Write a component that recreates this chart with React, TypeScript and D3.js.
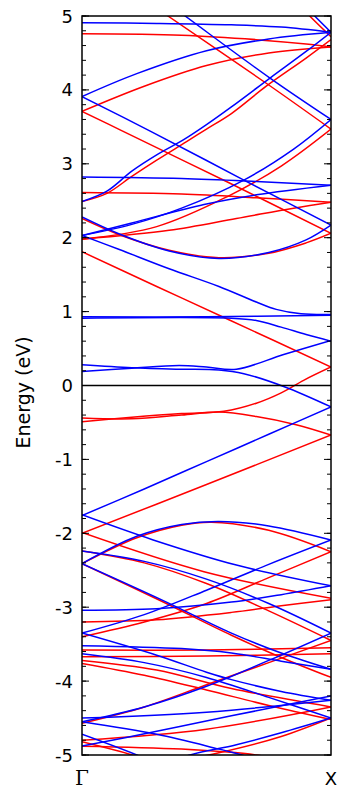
import React from "react";
import * as d3 from "d3";

// Band energies (eV) along the Γ → X path; k runs from 0 (Γ) to 1 (X).
type Band = [number, number][];

const spinUpBands: Band[] = [
  [[0, 4.91], [0.3, 4.9], [0.6, 4.88], [0.8, 4.85], [1, 4.78]],
  [[0, 3.91], [0.22, 4.22], [0.5, 4.53], [0.75, 4.69], [1, 4.78]],
  [[0.2, 5.53], [0.414, 5.0], [0.755, 4.16], [1, 3.6]],
  [[0, 2.49], [0.1, 2.63], [0.2, 2.9], [0.3, 3.12], [0.41, 3.33], [0.5, 3.53], [0.6, 3.77], [0.755, 4.16], [0.9, 4.52], [1, 4.78]],
  [[0.85, 5.3], [0.92, 5.05], [1, 4.78]],
  [[0, 3.91], [0.27, 3.45], [0.65, 2.78], [1, 2.17]],
  [[0, 2.82], [0.4, 2.8], [0.7, 2.76], [1, 2.71]],
  [[0, 2.03], [0.2, 2.18], [0.4, 2.4], [0.65, 2.78], [0.85, 3.2], [1, 3.6]],
  [[0, 2.03], [0.2, 2.2], [0.49, 2.45], [0.7, 2.58], [1, 2.71]],
  [[0, 2.28], [0.15, 2.05], [0.35, 1.82], [0.55, 1.72], [0.75, 1.8], [0.9, 1.97], [1, 2.17]],
  [[0, 2.03], [0.15, 1.84], [0.35, 1.58], [0.55, 1.34], [0.7, 1.13], [0.78, 1.03], [0.88, 0.97], [1, 0.96]],
  [[0, 0.93], [0.5, 0.93], [1, 0.95]],
  [[0, 0.91], [0.6, 0.91], [0.7, 0.88], [0.8, 0.79], [0.9, 0.69], [1, 0.6]],
  [[0, 0.19], [0.2, 0.235], [0.39, 0.27], [0.5, 0.25], [0.62, 0.22], [0.81, 0.42], [1, 0.61]],
  [[0, 0.28], [0.2, 0.24], [0.39, 0.22], [0.55, 0.21], [0.65, 0.16], [0.815, -0.02], [1, -0.29]],
  [[0, -1.76], [0.25, -1.4], [0.5, -1.03], [0.75, -0.66], [1, -0.29]],
  [[0, -1.75], [0.286, -2.09], [0.62, -2.43], [1, -2.71]],
  [[0, -2.41], [0.22, -2.04], [0.4, -1.88], [0.55, -1.84], [0.75, -1.9], [1, -2.09]],
  [[0, -2.24], [0.25, -2.38], [0.5, -2.62], [0.75, -2.95], [1, -3.35]],
  [[0, -2.41], [0.32, -2.9], [0.6, -3.35], [0.8, -3.62], [1, -3.84]],
  [[0, -3.04], [0.3, -3.02], [0.6, -2.93], [0.8, -2.83], [1, -2.71]],
  [[0, -3.35], [0.25, -3.1], [0.5, -2.77], [0.75, -2.42], [1, -2.09]],
  [[0, -3.35], [0.3, -3.65], [0.5, -3.88], [0.6, -3.98], [0.8, -4.14], [1, -4.26]],
  [[0, -3.52], [0.4, -3.56], [0.6, -3.62], [0.8, -3.73], [1, -3.84]],
  [[0, -3.63], [0.25, -3.75], [0.5, -3.95], [0.75, -4.22], [1, -4.5]],
  [[0, -4.5], [0.5, -4.42], [1, -4.26]],
  [[0, -4.55], [0.25, -4.35], [0.5, -4.07], [0.75, -3.72], [1, -3.35]],
  [[0, -4.72], [0.22, -5.0], [0.5, -5.4]],
  [[0.3, -5.15], [0.434, -5.0], [0.62, -4.86], [0.8, -4.7], [1, -4.5]],
  [[0, -4.88], [0.3, -4.68], [0.6, -4.47], [1, -4.2]],
  [[0, -4.55], [0.3, -4.72], [0.55, -4.92], [0.7, -5.05]],
];

const spinDownBands: Band[] = [
  [[0, 4.76], [0.4, 4.74], [0.7, 4.68], [0.9, 4.62], [1, 4.58]],
  [[0, 3.71], [0.25, 4.05], [0.5, 4.33], [0.75, 4.5], [1, 4.58]],
  [[0.1, 5.56], [0.345, 5.0], [0.74, 4.09], [1, 3.47]],
  [[0, 2.49], [0.1, 2.6], [0.2, 2.83], [0.3, 3.05], [0.42, 3.3], [0.5, 3.47], [0.6, 3.68], [0.74, 4.05], [0.9, 4.43], [1, 4.68]],
  [[0.82, 5.35], [0.9, 5.05], [1, 4.72]],
  [[0, 3.71], [0.153, 3.46], [0.58, 2.76], [1, 2.06]],
  [[0, 2.61], [0.4, 2.59], [0.7, 2.54], [1, 2.48]],
  [[0, 1.98], [0.3, 2.15], [0.58, 2.55], [0.8, 2.97], [1, 3.47]],
  [[0, 1.98], [0.35, 2.1], [0.62, 2.26], [0.85, 2.4], [1, 2.48]],
  [[0, 2.26], [0.15, 2.04], [0.35, 1.83], [0.55, 1.73], [0.75, 1.79], [0.9, 1.93], [1, 2.06]],
  [[0, 1.81], [0.3, 1.34], [0.59, 0.89], [1, 0.25]],
  [[0, -0.49], [0.2, -0.43], [0.4, -0.38], [0.57, -0.35], [0.7, -0.24], [0.8, -0.1], [0.89, 0.07], [1, 0.25]],
  [[0, -0.44], [0.2, -0.45], [0.4, -0.4], [0.55, -0.36], [0.7, -0.42], [0.86, -0.53], [1, -0.67]],
  [[0, -2.0], [0.5, -1.34], [1, -0.67]],
  [[0, -1.99], [0.49, -2.52], [1, -2.88]],
  [[0, -2.41], [0.22, -2.06], [0.4, -1.89], [0.52, -1.85], [0.75, -1.96], [1, -2.25]],
  [[0, -2.24], [0.25, -2.4], [0.5, -2.68], [0.75, -3.05], [1, -3.45]],
  [[0, -2.41], [0.32, -2.92], [0.6, -3.38], [0.8, -3.68], [1, -3.95]],
  [[0, -3.2], [0.3, -3.17], [0.6, -3.07], [0.8, -2.98], [1, -2.9]],
  [[0, -3.4], [0.25, -3.2], [0.5, -2.95], [0.75, -2.6], [1, -2.25]],
  [[0, -3.58], [0.5, -3.58], [1, -3.55]],
  [[0, -3.67], [0.5, -3.66], [1, -3.63]],
  [[0, -3.72], [0.3, -3.85], [0.6, -4.1], [1, -4.35]],
  [[0, -3.76], [0.25, -3.92], [0.5, -4.12], [0.75, -4.33], [1, -4.52]],
  [[0, -4.57], [0.25, -4.35], [0.5, -4.05], [0.75, -3.75], [1, -3.45]],
  [[0, -4.8], [0.5, -4.65], [1, -4.35]],
  [[0, -4.82], [0.15, -4.95], [0.3, -5.1]],
  [[0.35, -5.1], [0.55, -4.97], [0.8, -4.75], [1, -4.5]],
  [[0, -4.88], [0.4, -4.92], [0.7, -5.0], [0.85, -5.1]],
];

const kLabels = [
  { k: 0, label: "Γ", serif: true },
  { k: 1, label: "X", serif: false },
];
const energyTicks = [-5, -4, -3, -2, -1, 0, 1, 2, 3, 4, 5];
const energyMinorTicks = d3.range(-5, 5.0001, 0.2).map((v) => Math.round(v * 10) / 10);
const yLabel = "Energy (eV)";

const W = 340;
const H = 793;
const plot = { left: 82, right: 331, top: 16, bottom: 755 };

export default function App() {
  const x = d3.scaleLinear().domain([0, 1]).range([plot.left, plot.right]);
  const y = d3.scaleLinear().domain([-5, 5]).range([plot.bottom, plot.top]);
  const line = d3
    .line<[number, number]>()
    .x((d) => x(d[0]))
    .y((d) => y(d[1]))
    .curve(d3.curveCatmullRom.alpha(0.5));

  const font = "'DejaVu Sans', sans-serif";
  const majorLen = 7;
  const minorLen = 4;

  return (
    <svg
      width={W}
      height={H}
      style={{ position: "absolute", left: 0, top: 0, background: "#fff" }}
    >
      <defs>
        <clipPath id="plotClip">
          <rect
            x={plot.left}
            y={plot.top}
            width={plot.right - plot.left}
            height={plot.bottom - plot.top}
          />
        </clipPath>
      </defs>

      <g clipPath="url(#plotClip)" fill="none" strokeWidth={1.5}>
        {spinDownBands.map((b, i) => (
          <path key={`d${i}`} d={line(b) || ""} stroke="#ff0000" />
        ))}
        {spinUpBands.map((b, i) => (
          <path key={`u${i}`} d={line(b) || ""} stroke="#0000ff" />
        ))}
        <line
          x1={plot.left}
          x2={plot.right}
          y1={y(0)}
          y2={y(0)}
          stroke="#000"
          strokeWidth={1.5}
        />
      </g>

      {/* minor and major ticks, inward on both sides */}
      <g stroke="#000" strokeWidth={1}>
        {energyMinorTicks.map((v) => (
          <g key={`m${v}`}>
            <line x1={plot.left} x2={plot.left + minorLen} y1={y(v)} y2={y(v)} />
            <line x1={plot.right} x2={plot.right - minorLen} y1={y(v)} y2={y(v)} />
          </g>
        ))}
        {energyTicks.map((v) => (
          <g key={`M${v}`}>
            <line x1={plot.left} x2={plot.left + majorLen} y1={y(v)} y2={y(v)} />
            <line x1={plot.right} x2={plot.right - majorLen} y1={y(v)} y2={y(v)} />
          </g>
        ))}
      </g>

      <rect
        x={plot.left}
        y={plot.top}
        width={plot.right - plot.left}
        height={plot.bottom - plot.top}
        fill="none"
        stroke="#000"
        strokeWidth={1.5}
      />

      <g fontFamily={font} fontSize={18} fill="#000">
        {energyTicks.map((v) => (
          <text
            key={`t${v}`}
            x={plot.left - 9}
            y={y(v)}
            textAnchor="end"
            dominantBaseline="central"
          >
            {v < 0 ? `-${Math.abs(v)}` : `${v}`}
          </text>
        ))}
        {kLabels.map((d) => (
          <text
            key={d.label}
            x={x(d.k)}
            y={plot.bottom + 30}
            textAnchor="middle"
            fontFamily={d.serif ? "'DejaVu Serif', serif" : font}
            fontSize={d.serif ? 20 : 18}
          >
            {d.label}
          </text>
        ))}
        <text
          transform={`translate(30, ${(plot.top + plot.bottom) / 2 + 7}) rotate(-90)`}
          textAnchor="middle"
          fontSize={19}
        >
          {yLabel}
        </text>
      </g>
    </svg>
  );
}
